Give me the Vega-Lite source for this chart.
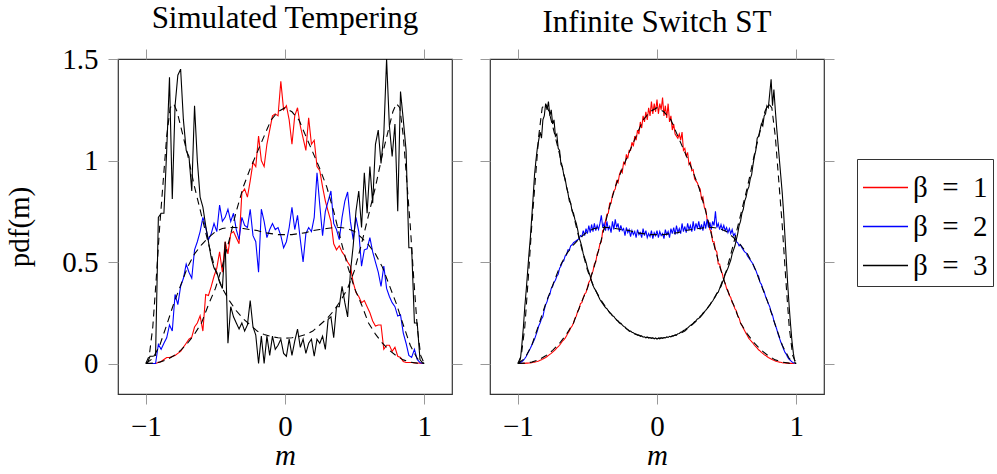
{
"$schema": "https://vega.github.io/schema/vega-lite/v6.json",
"background": "white",
"padding": {"left": 5, "top": 2, "right": 0, "bottom": 0},
"config": {
 "font": "Liberation Serif",
 "view": {"stroke": "#333", "strokeWidth": 1.2},
 "axis": {"grid": false, "domain": false, "tickColor": "#999", "tickSize": 10, "labelFont": "Liberation Serif", "labelFontSize": 29, "labelColor": "black", "titleFont": "Liberation Serif", "titleFontSize": 29, "titleFontWeight": "normal", "titleColor": "black"},
 "title": {"font": "Liberation Serif", "fontSize": 31, "fontWeight": "normal", "color": "black", "offset": 10},
 "legend": {"strokeColor": "#333", "fillColor": "white", "padding": 5, "symbolType": "stroke", "symbolSize": 2025, "symbolStrokeWidth": 1.3, "labelFont": "Liberation Serif", "labelFontSize": 29, "labelColor": "black", "rowPadding": 0, "labelOffset": 4},
 "concat": {"spacing": 14}
},
"datasets": {
"th": [
{"b":1,"m":-1,"y":0},{"b":1,"m":-0.95,"y":0.002},{"b":1,"m":-0.9,"y":0.007},{"b":1,"m":-0.85,"y":0.018},{"b":1,"m":-0.8,"y":0.038},{"b":1,"m":-0.75,"y":0.065},{"b":1,"m":-0.7,"y":0.1},{"b":1,"m":-0.65,"y":0.145},{"b":1,"m":-0.6,"y":0.2},{"b":1,"m":-0.55,"y":0.29},{"b":1,"m":-0.5,"y":0.37},{"b":1,"m":-0.45,"y":0.48},{"b":1,"m":-0.4,"y":0.61},{"b":1,"m":-0.35,"y":0.75},{"b":1,"m":-0.3,"y":0.87},{"b":1,"m":-0.25,"y":0.96},{"b":1,"m":-0.2,"y":1.04},{"b":1,"m":-0.15,"y":1.12},{"b":1,"m":-0.1,"y":1.2},{"b":1,"m":-0.05,"y":1.24},{"b":1,"m":0,"y":1.26},{"b":1,"m":0.05,"y":1.24},{"b":1,"m":0.1,"y":1.2},{"b":1,"m":0.15,"y":1.12},{"b":1,"m":0.2,"y":1.04},{"b":1,"m":0.25,"y":0.96},{"b":1,"m":0.3,"y":0.87},{"b":1,"m":0.35,"y":0.75},{"b":1,"m":0.4,"y":0.61},{"b":1,"m":0.45,"y":0.48},{"b":1,"m":0.5,"y":0.37},{"b":1,"m":0.55,"y":0.29},{"b":1,"m":0.6,"y":0.2},{"b":1,"m":0.65,"y":0.145},{"b":1,"m":0.7,"y":0.1},{"b":1,"m":0.75,"y":0.065},{"b":1,"m":0.8,"y":0.038},{"b":1,"m":0.85,"y":0.018},{"b":1,"m":0.9,"y":0.007},{"b":1,"m":0.95,"y":0.002},{"b":1,"m":1,"y":0},
{"b":2,"m":-1,"y":0},{"b":2,"m":-0.95,"y":0.025},{"b":2,"m":-0.9,"y":0.09},{"b":2,"m":-0.85,"y":0.19},{"b":2,"m":-0.8,"y":0.295},{"b":2,"m":-0.75,"y":0.385},{"b":2,"m":-0.7,"y":0.475},{"b":2,"m":-0.65,"y":0.54},{"b":2,"m":-0.6,"y":0.585},{"b":2,"m":-0.55,"y":0.62},{"b":2,"m":-0.5,"y":0.65},{"b":2,"m":-0.45,"y":0.665},{"b":2,"m":-0.4,"y":0.67},{"b":2,"m":-0.35,"y":0.67},{"b":2,"m":-0.3,"y":0.665},{"b":2,"m":-0.25,"y":0.66},{"b":2,"m":-0.2,"y":0.655},{"b":2,"m":-0.15,"y":0.645},{"b":2,"m":-0.1,"y":0.64},{"b":2,"m":-0.05,"y":0.635},{"b":2,"m":0,"y":0.635},{"b":2,"m":0.05,"y":0.635},{"b":2,"m":0.1,"y":0.64},{"b":2,"m":0.15,"y":0.645},{"b":2,"m":0.2,"y":0.655},{"b":2,"m":0.25,"y":0.66},{"b":2,"m":0.3,"y":0.665},{"b":2,"m":0.35,"y":0.67},{"b":2,"m":0.4,"y":0.67},{"b":2,"m":0.45,"y":0.665},{"b":2,"m":0.5,"y":0.65},{"b":2,"m":0.55,"y":0.62},{"b":2,"m":0.6,"y":0.585},{"b":2,"m":0.65,"y":0.54},{"b":2,"m":0.7,"y":0.475},{"b":2,"m":0.75,"y":0.385},{"b":2,"m":0.8,"y":0.295},{"b":2,"m":0.85,"y":0.19},{"b":2,"m":0.9,"y":0.09},{"b":2,"m":0.95,"y":0.025},{"b":2,"m":1,"y":0},
{"b":3,"m":-1,"y":0},{"b":3,"m":-0.975,"y":0.04},{"b":3,"m":-0.95,"y":0.18},{"b":3,"m":-0.925,"y":0.42},{"b":3,"m":-0.9,"y":0.68},{"b":3,"m":-0.875,"y":0.9},{"b":3,"m":-0.85,"y":1.12},{"b":3,"m":-0.825,"y":1.26},{"b":3,"m":-0.8,"y":1.28},{"b":3,"m":-0.775,"y":1.24},{"b":3,"m":-0.75,"y":1.17},{"b":3,"m":-0.7,"y":1.03},{"b":3,"m":-0.65,"y":0.87},{"b":3,"m":-0.6,"y":0.73},{"b":3,"m":-0.55,"y":0.59},{"b":3,"m":-0.5,"y":0.46},{"b":3,"m":-0.45,"y":0.37},{"b":3,"m":-0.4,"y":0.31},{"b":3,"m":-0.35,"y":0.26},{"b":3,"m":-0.3,"y":0.22},{"b":3,"m":-0.25,"y":0.19},{"b":3,"m":-0.2,"y":0.16},{"b":3,"m":-0.15,"y":0.143},{"b":3,"m":-0.1,"y":0.133},{"b":3,"m":-0.05,"y":0.127},{"b":3,"m":0,"y":0.125},{"b":3,"m":0.05,"y":0.127},{"b":3,"m":0.1,"y":0.133},{"b":3,"m":0.15,"y":0.143},{"b":3,"m":0.2,"y":0.16},{"b":3,"m":0.25,"y":0.19},{"b":3,"m":0.3,"y":0.22},{"b":3,"m":0.35,"y":0.26},{"b":3,"m":0.4,"y":0.31},{"b":3,"m":0.45,"y":0.37},{"b":3,"m":0.5,"y":0.46},{"b":3,"m":0.55,"y":0.59},{"b":3,"m":0.6,"y":0.73},{"b":3,"m":0.65,"y":0.87},{"b":3,"m":0.7,"y":1.03},{"b":3,"m":0.75,"y":1.17},{"b":3,"m":0.775,"y":1.24},{"b":3,"m":0.8,"y":1.28},{"b":3,"m":0.825,"y":1.26},{"b":3,"m":0.85,"y":1.12},{"b":3,"m":0.875,"y":0.9},{"b":3,"m":0.9,"y":0.68},{"b":3,"m":0.925,"y":0.42},{"b":3,"m":0.95,"y":0.18},{"b":3,"m":0.975,"y":0.04},{"b":3,"m":1,"y":0}
],
"st": [
{"b":1,"m":-0.99,"y":0},{"b":1,"m":-0.97,"y":0},{"b":1,"m":-0.95,"y":0},{"b":1,"m":-0.93,"y":0},{"b":1,"m":-0.91,"y":0.005},{"b":1,"m":-0.89,"y":0.01},{"b":1,"m":-0.87,"y":0.02},{"b":1,"m":-0.85,"y":0.03},{"b":1,"m":-0.83,"y":0.03},{"b":1,"m":-0.81,"y":0.035},{"b":1,"m":-0.79,"y":0.04},{"b":1,"m":-0.77,"y":0.05},{"b":1,"m":-0.75,"y":0.06},{"b":1,"m":-0.73,"y":0.08},{"b":1,"m":-0.71,"y":0.1},{"b":1,"m":-0.69,"y":0.12},{"b":1,"m":-0.67,"y":0.13},{"b":1,"m":-0.65,"y":0.18},{"b":1,"m":-0.63,"y":0.2},{"b":1,"m":-0.61,"y":0.235},{"b":1,"m":-0.59,"y":0.16},{"b":1,"m":-0.57,"y":0.34},{"b":1,"m":-0.55,"y":0.335},{"b":1,"m":-0.53,"y":0.38},{"b":1,"m":-0.51,"y":0.43},{"b":1,"m":-0.49,"y":0.47},{"b":1,"m":-0.47,"y":0.55},{"b":1,"m":-0.45,"y":0.45},{"b":1,"m":-0.43,"y":0.6},{"b":1,"m":-0.41,"y":0.54},{"b":1,"m":-0.39,"y":0.64},{"b":1,"m":-0.37,"y":0.65},{"b":1,"m":-0.35,"y":0.62},{"b":1,"m":-0.33,"y":0.59},{"b":1,"m":-0.31,"y":0.84},{"b":1,"m":-0.29,"y":0.86},{"b":1,"m":-0.27,"y":0.82},{"b":1,"m":-0.25,"y":0.9},{"b":1,"m":-0.23,"y":0.99},{"b":1,"m":-0.21,"y":0.97},{"b":1,"m":-0.19,"y":1.12},{"b":1,"m":-0.17,"y":1.0},{"b":1,"m":-0.15,"y":0.97},{"b":1,"m":-0.13,"y":1.08},{"b":1,"m":-0.11,"y":1.15},{"b":1,"m":-0.09,"y":1.22},{"b":1,"m":-0.07,"y":1.23},{"b":1,"m":-0.05,"y":1.22},{"b":1,"m":-0.03,"y":1.39},{"b":1,"m":-0.01,"y":1.25},{"b":1,"m":0.01,"y":1.27},{"b":1,"m":0.03,"y":1.2},{"b":1,"m":0.05,"y":1.08},{"b":1,"m":0.07,"y":1.22},{"b":1,"m":0.09,"y":1.26},{"b":1,"m":0.11,"y":1.17},{"b":1,"m":0.13,"y":1.11},{"b":1,"m":0.15,"y":1.05},{"b":1,"m":0.17,"y":1.21},{"b":1,"m":0.19,"y":1.08},{"b":1,"m":0.21,"y":1.1},{"b":1,"m":0.23,"y":0.97},{"b":1,"m":0.25,"y":0.95},{"b":1,"m":0.27,"y":0.87},{"b":1,"m":0.29,"y":0.8},{"b":1,"m":0.31,"y":0.75},{"b":1,"m":0.33,"y":0.7},{"b":1,"m":0.35,"y":0.59},{"b":1,"m":0.37,"y":0.56},{"b":1,"m":0.39,"y":0.58},{"b":1,"m":0.41,"y":0.55},{"b":1,"m":0.43,"y":0.53},{"b":1,"m":0.45,"y":0.5},{"b":1,"m":0.47,"y":0.48},{"b":1,"m":0.49,"y":0.4},{"b":1,"m":0.51,"y":0.35},{"b":1,"m":0.53,"y":0.33},{"b":1,"m":0.55,"y":0.3},{"b":1,"m":0.57,"y":0.31},{"b":1,"m":0.59,"y":0.28},{"b":1,"m":0.61,"y":0.25},{"b":1,"m":0.63,"y":0.21},{"b":1,"m":0.65,"y":0.185},{"b":1,"m":0.67,"y":0.19},{"b":1,"m":0.69,"y":0.19},{"b":1,"m":0.71,"y":0.07},{"b":1,"m":0.73,"y":0.09},{"b":1,"m":0.75,"y":0.09},{"b":1,"m":0.77,"y":0.06},{"b":1,"m":0.79,"y":0.08},{"b":1,"m":0.81,"y":0.036},{"b":1,"m":0.83,"y":0.03},{"b":1,"m":0.85,"y":0.01},{"b":1,"m":0.87,"y":0.005},{"b":1,"m":0.89,"y":0.005},{"b":1,"m":0.91,"y":0.005},{"b":1,"m":0.93,"y":0.003},{"b":1,"m":0.95,"y":0.003},{"b":1,"m":0.97,"y":0.002},{"b":1,"m":0.99,"y":0},
{"b":2,"m":-0.99,"y":0},{"b":2,"m":-0.97,"y":0},{"b":2,"m":-0.95,"y":0},{"b":2,"m":-0.93,"y":0},{"b":2,"m":-0.91,"y":0.094},{"b":2,"m":-0.89,"y":0.07},{"b":2,"m":-0.87,"y":0.1},{"b":2,"m":-0.85,"y":0.127},{"b":2,"m":-0.83,"y":0.19},{"b":2,"m":-0.81,"y":0.16},{"b":2,"m":-0.79,"y":0.34},{"b":2,"m":-0.77,"y":0.29},{"b":2,"m":-0.75,"y":0.38},{"b":2,"m":-0.73,"y":0.42},{"b":2,"m":-0.71,"y":0.49},{"b":2,"m":-0.69,"y":0.45},{"b":2,"m":-0.67,"y":0.42},{"b":2,"m":-0.65,"y":0.56},{"b":2,"m":-0.63,"y":0.6},{"b":2,"m":-0.61,"y":0.65},{"b":2,"m":-0.59,"y":0.72},{"b":2,"m":-0.57,"y":0.67},{"b":2,"m":-0.55,"y":0.61},{"b":2,"m":-0.53,"y":0.64},{"b":2,"m":-0.51,"y":0.69},{"b":2,"m":-0.49,"y":0.65},{"b":2,"m":-0.47,"y":0.78},{"b":2,"m":-0.45,"y":0.7},{"b":2,"m":-0.43,"y":0.72},{"b":2,"m":-0.41,"y":0.76},{"b":2,"m":-0.39,"y":0.7},{"b":2,"m":-0.37,"y":0.74},{"b":2,"m":-0.35,"y":0.66},{"b":2,"m":-0.33,"y":0.61},{"b":2,"m":-0.31,"y":0.72},{"b":2,"m":-0.29,"y":0.68},{"b":2,"m":-0.27,"y":0.67},{"b":2,"m":-0.25,"y":0.76},{"b":2,"m":-0.23,"y":0.63},{"b":2,"m":-0.21,"y":0.6},{"b":2,"m":-0.19,"y":0.45},{"b":2,"m":-0.17,"y":0.76},{"b":2,"m":-0.15,"y":0.7},{"b":2,"m":-0.13,"y":0.62},{"b":2,"m":-0.11,"y":0.66},{"b":2,"m":-0.09,"y":0.69},{"b":2,"m":-0.07,"y":0.66},{"b":2,"m":-0.05,"y":0.67},{"b":2,"m":-0.03,"y":0.63},{"b":2,"m":-0.01,"y":0.57},{"b":2,"m":0.01,"y":0.6},{"b":2,"m":0.03,"y":0.67},{"b":2,"m":0.05,"y":0.77},{"b":2,"m":0.07,"y":0.66},{"b":2,"m":0.09,"y":0.73},{"b":2,"m":0.11,"y":0.61},{"b":2,"m":0.13,"y":0.5},{"b":2,"m":0.15,"y":0.64},{"b":2,"m":0.17,"y":0.67},{"b":2,"m":0.19,"y":0.65},{"b":2,"m":0.21,"y":0.72},{"b":2,"m":0.23,"y":0.94},{"b":2,"m":0.25,"y":0.78},{"b":2,"m":0.27,"y":0.63},{"b":2,"m":0.29,"y":0.75},{"b":2,"m":0.31,"y":0.8},{"b":2,"m":0.33,"y":0.85},{"b":2,"m":0.35,"y":0.69},{"b":2,"m":0.37,"y":0.66},{"b":2,"m":0.39,"y":0.61},{"b":2,"m":0.41,"y":0.72},{"b":2,"m":0.43,"y":0.8},{"b":2,"m":0.45,"y":0.845},{"b":2,"m":0.47,"y":0.7},{"b":2,"m":0.49,"y":0.61},{"b":2,"m":0.51,"y":0.72},{"b":2,"m":0.53,"y":0.65},{"b":2,"m":0.55,"y":0.48},{"b":2,"m":0.57,"y":0.56},{"b":2,"m":0.59,"y":0.565},{"b":2,"m":0.61,"y":0.62},{"b":2,"m":0.63,"y":0.55},{"b":2,"m":0.65,"y":0.5},{"b":2,"m":0.67,"y":0.45},{"b":2,"m":0.69,"y":0.38},{"b":2,"m":0.71,"y":0.48},{"b":2,"m":0.73,"y":0.37},{"b":2,"m":0.75,"y":0.33},{"b":2,"m":0.77,"y":0.3},{"b":2,"m":0.79,"y":0.28},{"b":2,"m":0.81,"y":0.234},{"b":2,"m":0.83,"y":0.24},{"b":2,"m":0.85,"y":0.15},{"b":2,"m":0.87,"y":0.1},{"b":2,"m":0.89,"y":0.04},{"b":2,"m":0.91,"y":0.03},{"b":2,"m":0.93,"y":0.07},{"b":2,"m":0.95,"y":0.02},{"b":2,"m":0.97,"y":0.005},{"b":2,"m":0.99,"y":0},
{"b":3,"m":-0.99,"y":0},{"b":3,"m":-0.97,"y":0.036},{"b":3,"m":-0.95,"y":0.036},{"b":3,"m":-0.93,"y":0.04},{"b":3,"m":-0.91,"y":0.72},{"b":3,"m":-0.89,"y":0.74},{"b":3,"m":-0.87,"y":0.74},{"b":3,"m":-0.85,"y":1.05},{"b":3,"m":-0.83,"y":1.41},{"b":3,"m":-0.81,"y":0.81},{"b":3,"m":-0.79,"y":1.27},{"b":3,"m":-0.77,"y":1.42},{"b":3,"m":-0.75,"y":1.45},{"b":3,"m":-0.73,"y":1.2},{"b":3,"m":-0.71,"y":1.05},{"b":3,"m":-0.69,"y":1.02},{"b":3,"m":-0.67,"y":0.85},{"b":3,"m":-0.65,"y":1.27},{"b":3,"m":-0.63,"y":1.0},{"b":3,"m":-0.61,"y":0.82},{"b":3,"m":-0.59,"y":0.77},{"b":3,"m":-0.57,"y":0.68},{"b":3,"m":-0.55,"y":0.6},{"b":3,"m":-0.53,"y":0.52},{"b":3,"m":-0.51,"y":0.47},{"b":3,"m":-0.49,"y":0.45},{"b":3,"m":-0.47,"y":0.4},{"b":3,"m":-0.45,"y":0.37},{"b":3,"m":-0.43,"y":0.6},{"b":3,"m":-0.41,"y":0.1},{"b":3,"m":-0.39,"y":0.28},{"b":3,"m":-0.37,"y":0.23},{"b":3,"m":-0.35,"y":0.2},{"b":3,"m":-0.33,"y":0.17},{"b":3,"m":-0.31,"y":0.2},{"b":3,"m":-0.29,"y":0.16},{"b":3,"m":-0.27,"y":0.19},{"b":3,"m":-0.25,"y":0.31},{"b":3,"m":-0.23,"y":0.18},{"b":3,"m":-0.21,"y":0.14},{"b":3,"m":-0.19,"y":0},{"b":3,"m":-0.17,"y":0.135},{"b":3,"m":-0.15,"y":0},{"b":3,"m":-0.13,"y":0.135},{"b":3,"m":-0.11,"y":0.04},{"b":3,"m":-0.09,"y":0.135},{"b":3,"m":-0.07,"y":0.07},{"b":3,"m":-0.05,"y":0.09},{"b":3,"m":-0.03,"y":0.12},{"b":3,"m":-0.01,"y":0.05},{"b":3,"m":0.01,"y":0.036},{"b":3,"m":0.03,"y":0.12},{"b":3,"m":0.05,"y":0.04},{"b":3,"m":0.07,"y":0.11},{"b":3,"m":0.09,"y":0.17},{"b":3,"m":0.11,"y":0.08},{"b":3,"m":0.13,"y":0.12},{"b":3,"m":0.15,"y":0.05},{"b":3,"m":0.17,"y":0.1},{"b":3,"m":0.19,"y":0.12},{"b":3,"m":0.21,"y":0.036},{"b":3,"m":0.23,"y":0.12},{"b":3,"m":0.25,"y":0.1},{"b":3,"m":0.27,"y":0.135},{"b":3,"m":0.29,"y":0.07},{"b":3,"m":0.31,"y":0.218},{"b":3,"m":0.33,"y":0.23},{"b":3,"m":0.35,"y":0.127},{"b":3,"m":0.37,"y":0.28},{"b":3,"m":0.39,"y":0.28},{"b":3,"m":0.41,"y":0.38},{"b":3,"m":0.43,"y":0.3},{"b":3,"m":0.45,"y":0.23},{"b":3,"m":0.47,"y":0.45},{"b":3,"m":0.49,"y":0.58},{"b":3,"m":0.51,"y":0.75},{"b":3,"m":0.53,"y":0.85},{"b":3,"m":0.55,"y":0.67},{"b":3,"m":0.57,"y":0.94},{"b":3,"m":0.59,"y":0.74},{"b":3,"m":0.61,"y":0.97},{"b":3,"m":0.63,"y":0.79},{"b":3,"m":0.65,"y":1.08},{"b":3,"m":0.67,"y":1.15},{"b":3,"m":0.69,"y":0.985},{"b":3,"m":0.71,"y":1.13},{"b":3,"m":0.73,"y":1.5},{"b":3,"m":0.75,"y":1.17},{"b":3,"m":0.77,"y":1.02},{"b":3,"m":0.79,"y":1.18},{"b":3,"m":0.81,"y":0.75},{"b":3,"m":0.83,"y":1.34},{"b":3,"m":0.85,"y":1.2},{"b":3,"m":0.87,"y":1.05},{"b":3,"m":0.89,"y":0.57},{"b":3,"m":0.91,"y":0.57},{"b":3,"m":0.93,"y":0.2},{"b":3,"m":0.95,"y":0.2},{"b":3,"m":0.97,"y":0.02},{"b":3,"m":0.99,"y":0}
],
"ist": [
{"b":1,"m":-0.99,"y":0},{"b":1,"m":-0.98,"y":0},{"b":1,"m":-0.97,"y":0.001},{"b":1,"m":-0.96,"y":0.001},{"b":1,"m":-0.95,"y":0.001},{"b":1,"m":-0.94,"y":0.002},{"b":1,"m":-0.93,"y":0.002},{"b":1,"m":-0.92,"y":0.003},{"b":1,"m":-0.91,"y":0.003},{"b":1,"m":-0.9,"y":0.004},{"b":1,"m":-0.89,"y":0.006},{"b":1,"m":-0.88,"y":0.007},{"b":1,"m":-0.87,"y":0.009},{"b":1,"m":-0.86,"y":0.01},{"b":1,"m":-0.85,"y":0.012},{"b":1,"m":-0.84,"y":0.016},{"b":1,"m":-0.83,"y":0.019},{"b":1,"m":-0.82,"y":0.023},{"b":1,"m":-0.81,"y":0.026},{"b":1,"m":-0.8,"y":0.03},{"b":1,"m":-0.79,"y":0.035},{"b":1,"m":-0.78,"y":0.04},{"b":1,"m":-0.77,"y":0.045},{"b":1,"m":-0.76,"y":0.05},{"b":1,"m":-0.75,"y":0.056},{"b":1,"m":-0.74,"y":0.062},{"b":1,"m":-0.73,"y":0.069},{"b":1,"m":-0.72,"y":0.077},{"b":1,"m":-0.71,"y":0.083},{"b":1,"m":-0.7,"y":0.09},{"b":1,"m":-0.69,"y":0.1},{"b":1,"m":-0.68,"y":0.11},{"b":1,"m":-0.67,"y":0.117},{"b":1,"m":-0.66,"y":0.125},{"b":1,"m":-0.65,"y":0.137},{"b":1,"m":-0.64,"y":0.15},{"b":1,"m":-0.63,"y":0.16},{"b":1,"m":-0.62,"y":0.176},{"b":1,"m":-0.61,"y":0.185},{"b":1,"m":-0.6,"y":0.2},{"b":1,"m":-0.59,"y":0.223},{"b":1,"m":-0.58,"y":0.233},{"b":1,"m":-0.57,"y":0.258},{"b":1,"m":-0.56,"y":0.268},{"b":1,"m":-0.55,"y":0.295},{"b":1,"m":-0.54,"y":0.3},{"b":1,"m":-0.53,"y":0.325},{"b":1,"m":-0.52,"y":0.342},{"b":1,"m":-0.51,"y":0.35},{"b":1,"m":-0.5,"y":0.375},{"b":1,"m":-0.49,"y":0.4},{"b":1,"m":-0.48,"y":0.41},{"b":1,"m":-0.47,"y":0.44},{"b":1,"m":-0.46,"y":0.455},{"b":1,"m":-0.45,"y":0.49},{"b":1,"m":-0.44,"y":0.5},{"b":1,"m":-0.43,"y":0.54},{"b":1,"m":-0.42,"y":0.555},{"b":1,"m":-0.41,"y":0.59},{"b":1,"m":-0.4,"y":0.6},{"b":1,"m":-0.39,"y":0.655},{"b":1,"m":-0.38,"y":0.66},{"b":1,"m":-0.37,"y":0.7},{"b":1,"m":-0.36,"y":0.735},{"b":1,"m":-0.35,"y":0.74},{"b":1,"m":-0.34,"y":0.79},{"b":1,"m":-0.33,"y":0.79},{"b":1,"m":-0.32,"y":0.83},{"b":1,"m":-0.31,"y":0.85},{"b":1,"m":-0.3,"y":0.86},{"b":1,"m":-0.29,"y":0.9},{"b":1,"m":-0.28,"y":0.89},{"b":1,"m":-0.27,"y":0.93},{"b":1,"m":-0.26,"y":0.95},{"b":1,"m":-0.25,"y":0.94},{"b":1,"m":-0.24,"y":0.99},{"b":1,"m":-0.23,"y":0.98},{"b":1,"m":-0.22,"y":1.03},{"b":1,"m":-0.21,"y":1.01},{"b":1,"m":-0.2,"y":1.05},{"b":1,"m":-0.19,"y":1.05},{"b":1,"m":-0.18,"y":1.09},{"b":1,"m":-0.17,"y":1.07},{"b":1,"m":-0.16,"y":1.12},{"b":1,"m":-0.15,"y":1.1},{"b":1,"m":-0.14,"y":1.15},{"b":1,"m":-0.13,"y":1.13},{"b":1,"m":-0.12,"y":1.19},{"b":1,"m":-0.11,"y":1.16},{"b":1,"m":-0.1,"y":1.22},{"b":1,"m":-0.09,"y":1.19},{"b":1,"m":-0.08,"y":1.24},{"b":1,"m":-0.07,"y":1.2},{"b":1,"m":-0.06,"y":1.26},{"b":1,"m":-0.05,"y":1.22},{"b":1,"m":-0.04,"y":1.29},{"b":1,"m":-0.03,"y":1.23},{"b":1,"m":-0.02,"y":1.28},{"b":1,"m":-0.01,"y":1.24},{"b":1,"m":0,"y":1.3},{"b":1,"m":0.01,"y":1.23},{"b":1,"m":0.02,"y":1.28},{"b":1,"m":0.03,"y":1.25},{"b":1,"m":0.04,"y":1.31},{"b":1,"m":0.05,"y":1.22},{"b":1,"m":0.06,"y":1.27},{"b":1,"m":0.07,"y":1.21},{"b":1,"m":0.08,"y":1.28},{"b":1,"m":0.09,"y":1.19},{"b":1,"m":0.1,"y":1.22},{"b":1,"m":0.11,"y":1.15},{"b":1,"m":0.12,"y":1.18},{"b":1,"m":0.13,"y":1.13},{"b":1,"m":0.14,"y":1.12},{"b":1,"m":0.15,"y":1.11},{"b":1,"m":0.16,"y":1.13},{"b":1,"m":0.17,"y":1.1},{"b":1,"m":0.18,"y":1.14},{"b":1,"m":0.19,"y":1.05},{"b":1,"m":0.2,"y":1.06},{"b":1,"m":0.21,"y":1.02},{"b":1,"m":0.22,"y":1.04},{"b":1,"m":0.23,"y":0.98},{"b":1,"m":0.24,"y":0.99},{"b":1,"m":0.25,"y":0.95},{"b":1,"m":0.26,"y":0.955},{"b":1,"m":0.27,"y":0.91},{"b":1,"m":0.28,"y":0.9},{"b":1,"m":0.29,"y":0.89},{"b":1,"m":0.3,"y":0.87},{"b":1,"m":0.31,"y":0.86},{"b":1,"m":0.32,"y":0.81},{"b":1,"m":0.33,"y":0.82},{"b":1,"m":0.34,"y":0.77},{"b":1,"m":0.35,"y":0.76},{"b":1,"m":0.36,"y":0.71},{"b":1,"m":0.37,"y":0.7},{"b":1,"m":0.38,"y":0.66},{"b":1,"m":0.39,"y":0.65},{"b":1,"m":0.4,"y":0.6},{"b":1,"m":0.41,"y":0.6},{"b":1,"m":0.42,"y":0.56},{"b":1,"m":0.43,"y":0.55},{"b":1,"m":0.44,"y":0.49},{"b":1,"m":0.45,"y":0.49},{"b":1,"m":0.46,"y":0.46},{"b":1,"m":0.47,"y":0.44},{"b":1,"m":0.48,"y":0.41},{"b":1,"m":0.49,"y":0.395},{"b":1,"m":0.5,"y":0.37},{"b":1,"m":0.51,"y":0.36},{"b":1,"m":0.52,"y":0.335},{"b":1,"m":0.53,"y":0.325},{"b":1,"m":0.54,"y":0.3},{"b":1,"m":0.55,"y":0.29},{"b":1,"m":0.56,"y":0.27},{"b":1,"m":0.57,"y":0.26},{"b":1,"m":0.58,"y":0.235},{"b":1,"m":0.59,"y":0.225},{"b":1,"m":0.6,"y":0.2},{"b":1,"m":0.61,"y":0.188},{"b":1,"m":0.62,"y":0.174},{"b":1,"m":0.63,"y":0.162},{"b":1,"m":0.64,"y":0.148},{"b":1,"m":0.65,"y":0.137},{"b":1,"m":0.66,"y":0.124},{"b":1,"m":0.67,"y":0.116},{"b":1,"m":0.68,"y":0.108},{"b":1,"m":0.69,"y":0.1},{"b":1,"m":0.7,"y":0.09},{"b":1,"m":0.71,"y":0.083},{"b":1,"m":0.72,"y":0.076},{"b":1,"m":0.73,"y":0.068},{"b":1,"m":0.74,"y":0.062},{"b":1,"m":0.75,"y":0.055},{"b":1,"m":0.76,"y":0.05},{"b":1,"m":0.77,"y":0.044},{"b":1,"m":0.78,"y":0.04},{"b":1,"m":0.79,"y":0.035},{"b":1,"m":0.8,"y":0.03},{"b":1,"m":0.81,"y":0.026},{"b":1,"m":0.82,"y":0.022},{"b":1,"m":0.83,"y":0.019},{"b":1,"m":0.84,"y":0.016},{"b":1,"m":0.85,"y":0.012},{"b":1,"m":0.86,"y":0.01},{"b":1,"m":0.87,"y":0.009},{"b":1,"m":0.88,"y":0.007},{"b":1,"m":0.89,"y":0.006},{"b":1,"m":0.9,"y":0.004},{"b":1,"m":0.91,"y":0.003},{"b":1,"m":0.92,"y":0.003},{"b":1,"m":0.93,"y":0.002},{"b":1,"m":0.94,"y":0.002},{"b":1,"m":0.95,"y":0.001},{"b":1,"m":0.96,"y":0.001},{"b":1,"m":0.97,"y":0.001},{"b":1,"m":0.98,"y":0},{"b":1,"m":0.99,"y":0},
{"b":2,"m":-0.99,"y":0.002},{"b":2,"m":-0.98,"y":0.005},{"b":2,"m":-0.97,"y":0.01},{"b":2,"m":-0.96,"y":0.016},{"b":2,"m":-0.95,"y":0.025},{"b":2,"m":-0.94,"y":0.035},{"b":2,"m":-0.93,"y":0.05},{"b":2,"m":-0.92,"y":0.062},{"b":2,"m":-0.91,"y":0.075},{"b":2,"m":-0.9,"y":0.09},{"b":2,"m":-0.89,"y":0.105},{"b":2,"m":-0.88,"y":0.12},{"b":2,"m":-0.87,"y":0.14},{"b":2,"m":-0.86,"y":0.16},{"b":2,"m":-0.85,"y":0.185},{"b":2,"m":-0.84,"y":0.2},{"b":2,"m":-0.83,"y":0.22},{"b":2,"m":-0.82,"y":0.23},{"b":2,"m":-0.81,"y":0.265},{"b":2,"m":-0.8,"y":0.29},{"b":2,"m":-0.79,"y":0.305},{"b":2,"m":-0.78,"y":0.33},{"b":2,"m":-0.77,"y":0.34},{"b":2,"m":-0.76,"y":0.37},{"b":2,"m":-0.75,"y":0.38},{"b":2,"m":-0.74,"y":0.4},{"b":2,"m":-0.73,"y":0.41},{"b":2,"m":-0.72,"y":0.43},{"b":2,"m":-0.71,"y":0.44},{"b":2,"m":-0.7,"y":0.47},{"b":2,"m":-0.69,"y":0.48},{"b":2,"m":-0.68,"y":0.5},{"b":2,"m":-0.67,"y":0.505},{"b":2,"m":-0.66,"y":0.53},{"b":2,"m":-0.65,"y":0.535},{"b":2,"m":-0.64,"y":0.56},{"b":2,"m":-0.63,"y":0.56},{"b":2,"m":-0.62,"y":0.58},{"b":2,"m":-0.61,"y":0.585},{"b":2,"m":-0.6,"y":0.595},{"b":2,"m":-0.59,"y":0.6},{"b":2,"m":-0.58,"y":0.605},{"b":2,"m":-0.57,"y":0.61},{"b":2,"m":-0.56,"y":0.615},{"b":2,"m":-0.55,"y":0.63},{"b":2,"m":-0.54,"y":0.625},{"b":2,"m":-0.53,"y":0.655},{"b":2,"m":-0.52,"y":0.63},{"b":2,"m":-0.51,"y":0.665},{"b":2,"m":-0.5,"y":0.64},{"b":2,"m":-0.49,"y":0.68},{"b":2,"m":-0.48,"y":0.645},{"b":2,"m":-0.47,"y":0.685},{"b":2,"m":-0.46,"y":0.65},{"b":2,"m":-0.45,"y":0.69},{"b":2,"m":-0.44,"y":0.655},{"b":2,"m":-0.43,"y":0.68},{"b":2,"m":-0.42,"y":0.66},{"b":2,"m":-0.41,"y":0.69},{"b":2,"m":-0.4,"y":0.73},{"b":2,"m":-0.39,"y":0.67},{"b":2,"m":-0.38,"y":0.69},{"b":2,"m":-0.37,"y":0.655},{"b":2,"m":-0.36,"y":0.7},{"b":2,"m":-0.35,"y":0.66},{"b":2,"m":-0.34,"y":0.675},{"b":2,"m":-0.33,"y":0.645},{"b":2,"m":-0.32,"y":0.7},{"b":2,"m":-0.31,"y":0.66},{"b":2,"m":-0.3,"y":0.71},{"b":2,"m":-0.29,"y":0.67},{"b":2,"m":-0.28,"y":0.69},{"b":2,"m":-0.27,"y":0.65},{"b":2,"m":-0.26,"y":0.68},{"b":2,"m":-0.25,"y":0.655},{"b":2,"m":-0.24,"y":0.665},{"b":2,"m":-0.23,"y":0.63},{"b":2,"m":-0.22,"y":0.67},{"b":2,"m":-0.21,"y":0.645},{"b":2,"m":-0.2,"y":0.66},{"b":2,"m":-0.19,"y":0.625},{"b":2,"m":-0.18,"y":0.655},{"b":2,"m":-0.17,"y":0.635},{"b":2,"m":-0.16,"y":0.65},{"b":2,"m":-0.15,"y":0.62},{"b":2,"m":-0.14,"y":0.66},{"b":2,"m":-0.13,"y":0.635},{"b":2,"m":-0.12,"y":0.645},{"b":2,"m":-0.11,"y":0.62},{"b":2,"m":-0.1,"y":0.665},{"b":2,"m":-0.09,"y":0.63},{"b":2,"m":-0.08,"y":0.655},{"b":2,"m":-0.07,"y":0.62},{"b":2,"m":-0.06,"y":0.64},{"b":2,"m":-0.05,"y":0.625},{"b":2,"m":-0.04,"y":0.655},{"b":2,"m":-0.03,"y":0.615},{"b":2,"m":-0.02,"y":0.645},{"b":2,"m":-0.01,"y":0.63},{"b":2,"m":0,"y":0.655},{"b":2,"m":0.01,"y":0.62},{"b":2,"m":0.02,"y":0.65},{"b":2,"m":0.03,"y":0.63},{"b":2,"m":0.04,"y":0.64},{"b":2,"m":0.05,"y":0.615},{"b":2,"m":0.06,"y":0.66},{"b":2,"m":0.07,"y":0.635},{"b":2,"m":0.08,"y":0.65},{"b":2,"m":0.09,"y":0.62},{"b":2,"m":0.1,"y":0.665},{"b":2,"m":0.11,"y":0.64},{"b":2,"m":0.12,"y":0.67},{"b":2,"m":0.13,"y":0.635},{"b":2,"m":0.14,"y":0.68},{"b":2,"m":0.15,"y":0.645},{"b":2,"m":0.16,"y":0.665},{"b":2,"m":0.17,"y":0.64},{"b":2,"m":0.18,"y":0.69},{"b":2,"m":0.19,"y":0.65},{"b":2,"m":0.2,"y":0.675},{"b":2,"m":0.21,"y":0.645},{"b":2,"m":0.22,"y":0.69},{"b":2,"m":0.23,"y":0.66},{"b":2,"m":0.24,"y":0.68},{"b":2,"m":0.25,"y":0.65},{"b":2,"m":0.26,"y":0.7},{"b":2,"m":0.27,"y":0.655},{"b":2,"m":0.28,"y":0.69},{"b":2,"m":0.29,"y":0.665},{"b":2,"m":0.3,"y":0.7},{"b":2,"m":0.31,"y":0.66},{"b":2,"m":0.32,"y":0.685},{"b":2,"m":0.33,"y":0.655},{"b":2,"m":0.34,"y":0.7},{"b":2,"m":0.35,"y":0.665},{"b":2,"m":0.36,"y":0.71},{"b":2,"m":0.37,"y":0.67},{"b":2,"m":0.38,"y":0.695},{"b":2,"m":0.39,"y":0.66},{"b":2,"m":0.4,"y":0.7},{"b":2,"m":0.41,"y":0.68},{"b":2,"m":0.42,"y":0.75},{"b":2,"m":0.43,"y":0.67},{"b":2,"m":0.44,"y":0.69},{"b":2,"m":0.45,"y":0.66},{"b":2,"m":0.46,"y":0.685},{"b":2,"m":0.47,"y":0.66},{"b":2,"m":0.48,"y":0.68},{"b":2,"m":0.49,"y":0.655},{"b":2,"m":0.5,"y":0.67},{"b":2,"m":0.51,"y":0.645},{"b":2,"m":0.52,"y":0.665},{"b":2,"m":0.53,"y":0.64},{"b":2,"m":0.54,"y":0.66},{"b":2,"m":0.55,"y":0.63},{"b":2,"m":0.56,"y":0.64},{"b":2,"m":0.57,"y":0.6},{"b":2,"m":0.58,"y":0.595},{"b":2,"m":0.59,"y":0.58},{"b":2,"m":0.6,"y":0.585},{"b":2,"m":0.61,"y":0.57},{"b":2,"m":0.62,"y":0.56},{"b":2,"m":0.63,"y":0.55},{"b":2,"m":0.64,"y":0.545},{"b":2,"m":0.65,"y":0.53},{"b":2,"m":0.66,"y":0.52},{"b":2,"m":0.67,"y":0.51},{"b":2,"m":0.68,"y":0.5},{"b":2,"m":0.69,"y":0.49},{"b":2,"m":0.7,"y":0.47},{"b":2,"m":0.71,"y":0.46},{"b":2,"m":0.72,"y":0.44},{"b":2,"m":0.73,"y":0.43},{"b":2,"m":0.74,"y":0.4},{"b":2,"m":0.75,"y":0.39},{"b":2,"m":0.76,"y":0.37},{"b":2,"m":0.77,"y":0.355},{"b":2,"m":0.78,"y":0.33},{"b":2,"m":0.79,"y":0.315},{"b":2,"m":0.8,"y":0.295},{"b":2,"m":0.81,"y":0.28},{"b":2,"m":0.82,"y":0.255},{"b":2,"m":0.83,"y":0.24},{"b":2,"m":0.84,"y":0.21},{"b":2,"m":0.85,"y":0.19},{"b":2,"m":0.86,"y":0.17},{"b":2,"m":0.87,"y":0.145},{"b":2,"m":0.88,"y":0.125},{"b":2,"m":0.89,"y":0.105},{"b":2,"m":0.9,"y":0.09},{"b":2,"m":0.91,"y":0.07},{"b":2,"m":0.92,"y":0.055},{"b":2,"m":0.93,"y":0.045},{"b":2,"m":0.94,"y":0.03},{"b":2,"m":0.95,"y":0.02},{"b":2,"m":0.96,"y":0.014},{"b":2,"m":0.97,"y":0.008},{"b":2,"m":0.98,"y":0.004},{"b":2,"m":0.99,"y":0.001},
{"b":3,"m":-0.99,"y":0},{"b":3,"m":-0.98,"y":0.03},{"b":3,"m":-0.97,"y":0.1},{"b":3,"m":-0.96,"y":0.18},{"b":3,"m":-0.95,"y":0.28},{"b":3,"m":-0.94,"y":0.36},{"b":3,"m":-0.93,"y":0.45},{"b":3,"m":-0.92,"y":0.54},{"b":3,"m":-0.91,"y":0.62},{"b":3,"m":-0.9,"y":0.72},{"b":3,"m":-0.89,"y":0.82},{"b":3,"m":-0.88,"y":0.93},{"b":3,"m":-0.87,"y":1.0},{"b":3,"m":-0.86,"y":1.06},{"b":3,"m":-0.85,"y":1.1},{"b":3,"m":-0.84,"y":1.14},{"b":3,"m":-0.83,"y":1.11},{"b":3,"m":-0.82,"y":1.2},{"b":3,"m":-0.81,"y":1.22},{"b":3,"m":-0.8,"y":1.28},{"b":3,"m":-0.79,"y":1.25},{"b":3,"m":-0.78,"y":1.29},{"b":3,"m":-0.77,"y":1.22},{"b":3,"m":-0.76,"y":1.25},{"b":3,"m":-0.75,"y":1.18},{"b":3,"m":-0.74,"y":1.2},{"b":3,"m":-0.73,"y":1.12},{"b":3,"m":-0.72,"y":1.13},{"b":3,"m":-0.71,"y":1.06},{"b":3,"m":-0.7,"y":1.05},{"b":3,"m":-0.69,"y":0.98},{"b":3,"m":-0.68,"y":0.97},{"b":3,"m":-0.67,"y":0.93},{"b":3,"m":-0.66,"y":0.91},{"b":3,"m":-0.65,"y":0.87},{"b":3,"m":-0.64,"y":0.84},{"b":3,"m":-0.63,"y":0.8},{"b":3,"m":-0.62,"y":0.79},{"b":3,"m":-0.61,"y":0.75},{"b":3,"m":-0.6,"y":0.74},{"b":3,"m":-0.59,"y":0.71},{"b":3,"m":-0.58,"y":0.69},{"b":3,"m":-0.57,"y":0.66},{"b":3,"m":-0.56,"y":0.62},{"b":3,"m":-0.55,"y":0.6},{"b":3,"m":-0.54,"y":0.575},{"b":3,"m":-0.53,"y":0.54},{"b":3,"m":-0.52,"y":0.52},{"b":3,"m":-0.51,"y":0.5},{"b":3,"m":-0.5,"y":0.47},{"b":3,"m":-0.49,"y":0.45},{"b":3,"m":-0.48,"y":0.43},{"b":3,"m":-0.47,"y":0.405},{"b":3,"m":-0.46,"y":0.385},{"b":3,"m":-0.45,"y":0.37},{"b":3,"m":-0.44,"y":0.36},{"b":3,"m":-0.43,"y":0.345},{"b":3,"m":-0.42,"y":0.33},{"b":3,"m":-0.41,"y":0.315},{"b":3,"m":-0.4,"y":0.305},{"b":3,"m":-0.39,"y":0.295},{"b":3,"m":-0.38,"y":0.285},{"b":3,"m":-0.37,"y":0.275},{"b":3,"m":-0.36,"y":0.27},{"b":3,"m":-0.35,"y":0.26},{"b":3,"m":-0.34,"y":0.25},{"b":3,"m":-0.33,"y":0.245},{"b":3,"m":-0.32,"y":0.235},{"b":3,"m":-0.31,"y":0.232},{"b":3,"m":-0.3,"y":0.222},{"b":3,"m":-0.29,"y":0.215},{"b":3,"m":-0.28,"y":0.21},{"b":3,"m":-0.27,"y":0.2},{"b":3,"m":-0.26,"y":0.198},{"b":3,"m":-0.25,"y":0.19},{"b":3,"m":-0.24,"y":0.183},{"b":3,"m":-0.23,"y":0.18},{"b":3,"m":-0.22,"y":0.172},{"b":3,"m":-0.21,"y":0.168},{"b":3,"m":-0.2,"y":0.162},{"b":3,"m":-0.19,"y":0.16},{"b":3,"m":-0.18,"y":0.154},{"b":3,"m":-0.17,"y":0.152},{"b":3,"m":-0.16,"y":0.146},{"b":3,"m":-0.15,"y":0.145},{"b":3,"m":-0.14,"y":0.14},{"b":3,"m":-0.13,"y":0.14},{"b":3,"m":-0.12,"y":0.134},{"b":3,"m":-0.11,"y":0.136},{"b":3,"m":-0.1,"y":0.13},{"b":3,"m":-0.09,"y":0.132},{"b":3,"m":-0.08,"y":0.127},{"b":3,"m":-0.07,"y":0.13},{"b":3,"m":-0.06,"y":0.125},{"b":3,"m":-0.05,"y":0.128},{"b":3,"m":-0.04,"y":0.124},{"b":3,"m":-0.03,"y":0.127},{"b":3,"m":-0.02,"y":0.122},{"b":3,"m":-0.01,"y":0.126},{"b":3,"m":0,"y":0.121},{"b":3,"m":0.01,"y":0.125},{"b":3,"m":0.02,"y":0.122},{"b":3,"m":0.03,"y":0.127},{"b":3,"m":0.04,"y":0.124},{"b":3,"m":0.05,"y":0.128},{"b":3,"m":0.06,"y":0.126},{"b":3,"m":0.07,"y":0.131},{"b":3,"m":0.08,"y":0.129},{"b":3,"m":0.09,"y":0.134},{"b":3,"m":0.1,"y":0.131},{"b":3,"m":0.11,"y":0.137},{"b":3,"m":0.12,"y":0.136},{"b":3,"m":0.13,"y":0.141},{"b":3,"m":0.14,"y":0.14},{"b":3,"m":0.15,"y":0.147},{"b":3,"m":0.16,"y":0.148},{"b":3,"m":0.17,"y":0.154},{"b":3,"m":0.18,"y":0.156},{"b":3,"m":0.19,"y":0.163},{"b":3,"m":0.2,"y":0.165},{"b":3,"m":0.21,"y":0.172},{"b":3,"m":0.22,"y":0.175},{"b":3,"m":0.23,"y":0.182},{"b":3,"m":0.24,"y":0.188},{"b":3,"m":0.25,"y":0.193},{"b":3,"m":0.26,"y":0.198},{"b":3,"m":0.27,"y":0.206},{"b":3,"m":0.28,"y":0.21},{"b":3,"m":0.29,"y":0.22},{"b":3,"m":0.3,"y":0.222},{"b":3,"m":0.31,"y":0.232},{"b":3,"m":0.32,"y":0.238},{"b":3,"m":0.33,"y":0.248},{"b":3,"m":0.34,"y":0.255},{"b":3,"m":0.35,"y":0.262},{"b":3,"m":0.36,"y":0.27},{"b":3,"m":0.37,"y":0.28},{"b":3,"m":0.38,"y":0.288},{"b":3,"m":0.39,"y":0.3},{"b":3,"m":0.4,"y":0.308},{"b":3,"m":0.41,"y":0.32},{"b":3,"m":0.42,"y":0.33},{"b":3,"m":0.43,"y":0.345},{"b":3,"m":0.44,"y":0.352},{"b":3,"m":0.45,"y":0.37},{"b":3,"m":0.46,"y":0.38},{"b":3,"m":0.47,"y":0.4},{"b":3,"m":0.48,"y":0.415},{"b":3,"m":0.49,"y":0.44},{"b":3,"m":0.5,"y":0.455},{"b":3,"m":0.51,"y":0.47},{"b":3,"m":0.52,"y":0.49},{"b":3,"m":0.53,"y":0.51},{"b":3,"m":0.54,"y":0.54},{"b":3,"m":0.55,"y":0.56},{"b":3,"m":0.56,"y":0.58},{"b":3,"m":0.57,"y":0.61},{"b":3,"m":0.58,"y":0.64},{"b":3,"m":0.59,"y":0.68},{"b":3,"m":0.6,"y":0.7},{"b":3,"m":0.61,"y":0.74},{"b":3,"m":0.62,"y":0.76},{"b":3,"m":0.63,"y":0.8},{"b":3,"m":0.64,"y":0.82},{"b":3,"m":0.65,"y":0.855},{"b":3,"m":0.66,"y":0.87},{"b":3,"m":0.67,"y":0.91},{"b":3,"m":0.68,"y":0.93},{"b":3,"m":0.69,"y":0.98},{"b":3,"m":0.7,"y":1.02},{"b":3,"m":0.71,"y":1.05},{"b":3,"m":0.72,"y":1.11},{"b":3,"m":0.73,"y":1.12},{"b":3,"m":0.74,"y":1.15},{"b":3,"m":0.75,"y":1.18},{"b":3,"m":0.76,"y":1.17},{"b":3,"m":0.77,"y":1.22},{"b":3,"m":0.78,"y":1.23},{"b":3,"m":0.79,"y":1.27},{"b":3,"m":0.8,"y":1.26},{"b":3,"m":0.81,"y":1.33},{"b":3,"m":0.82,"y":1.4},{"b":3,"m":0.83,"y":1.27},{"b":3,"m":0.84,"y":1.35},{"b":3,"m":0.85,"y":1.25},{"b":3,"m":0.86,"y":1.16},{"b":3,"m":0.87,"y":1.08},{"b":3,"m":0.88,"y":1.0},{"b":3,"m":0.89,"y":0.92},{"b":3,"m":0.9,"y":0.84},{"b":3,"m":0.91,"y":0.74},{"b":3,"m":0.92,"y":0.62},{"b":3,"m":0.93,"y":0.5},{"b":3,"m":0.94,"y":0.38},{"b":3,"m":0.95,"y":0.28},{"b":3,"m":0.96,"y":0.19},{"b":3,"m":0.97,"y":0.11},{"b":3,"m":0.98,"y":0.05},{"b":3,"m":0.99,"y":0.01}
]
},
"hconcat": [
{
 "title": {"text": "Simulated Tempering"},
 "width": 334, "height": 335,
 "layer": [
  {"data": {"name": "st"},
   "mark": {"type": "line", "strokeWidth": 1.1},
   "encoding": {
    "x": {"field": "m", "type": "quantitative", "scale": {"domain": [-1.2, 1.2], "nice": false, "zero": false}, "axis": {"values": [-1, 0, 1], "format": "~g", "title": "m", "titleFontStyle": "italic", "labelPadding": 8, "titlePadding": 0}},
    "y": {"field": "y", "type": "quantitative", "scale": {"domain": [-0.15, 1.5], "nice": false, "zero": false}, "axis": {"values": [0, 0.5, 1, 1.5], "format": "~g", "title": "pdf(m)", "labelPadding": 10, "titlePadding": 27}},
    "color": {"field": "b", "type": "nominal", "scale": {"domain": [1, 2, 3], "range": ["#ff0000", "#0000ff", "#000000"]}, "legend": {"title": null, "orient": "none", "legendX": 739, "legendY": 100, "labelExpr": "'β\u2002=\u2002' + datum.label"}}
   }},
  {"data": {"name": "th"},
   "mark": {"type": "line", "color": "black", "strokeWidth": 1.1, "strokeDash": [7, 5]},
   "encoding": {
    "x": {"field": "m", "type": "quantitative", "scale": {"domain": [-1.2, 1.2], "nice": false, "zero": false}, "axis": {"orient": "top", "values": [-1, 0, 1], "labels": false, "title": null}},
    "y": {"field": "y", "type": "quantitative", "scale": {"domain": [-0.15, 1.5], "nice": false, "zero": false}, "axis": {"orient": "right", "values": [0, 0.5, 1, 1.5], "labels": false, "title": null}},
    "detail": {"field": "b", "type": "nominal"}
   }}
 ],
 "resolve": {"axis": {"x": "independent", "y": "independent"}}
},
{
 "title": {"text": "Infinite Switch ST"},
 "width": 334, "height": 335,
 "layer": [
  {"data": {"name": "ist"},
   "mark": {"type": "line", "strokeWidth": 1.1},
   "encoding": {
    "x": {"field": "m", "type": "quantitative", "scale": {"domain": [-1.2, 1.2], "nice": false, "zero": false}, "axis": {"values": [-1, 0, 1], "format": "~g", "title": "m", "titleFontStyle": "italic", "labelPadding": 8, "titlePadding": 0}},
    "y": {"field": "y", "type": "quantitative", "scale": {"domain": [-0.15, 1.5], "nice": false, "zero": false}, "axis": {"values": [0, 0.5, 1, 1.5], "labels": false, "title": null}},
    "color": {"field": "b", "type": "nominal", "scale": {"domain": [1, 2, 3], "range": ["#ff0000", "#0000ff", "#000000"]}, "legend": {"title": null, "orient": "none", "legendX": 739, "legendY": 100, "labelExpr": "'β\u2002=\u2002' + datum.label"}}
   }},
  {"data": {"name": "th"},
   "mark": {"type": "line", "color": "black", "strokeWidth": 1.1, "strokeDash": [7, 5]},
   "encoding": {
    "x": {"field": "m", "type": "quantitative", "scale": {"domain": [-1.2, 1.2], "nice": false, "zero": false}, "axis": {"orient": "top", "values": [-1, 0, 1], "labels": false, "title": null}},
    "y": {"field": "y", "type": "quantitative", "scale": {"domain": [-0.15, 1.5], "nice": false, "zero": false}, "axis": {"orient": "right", "values": [0, 0.5, 1, 1.5], "labels": false, "title": null}},
    "detail": {"field": "b", "type": "nominal"}
   }}
 ],
 "resolve": {"axis": {"x": "independent", "y": "independent"}}
}
],
"resolve": {"scale": {"color": "shared"}}
}
